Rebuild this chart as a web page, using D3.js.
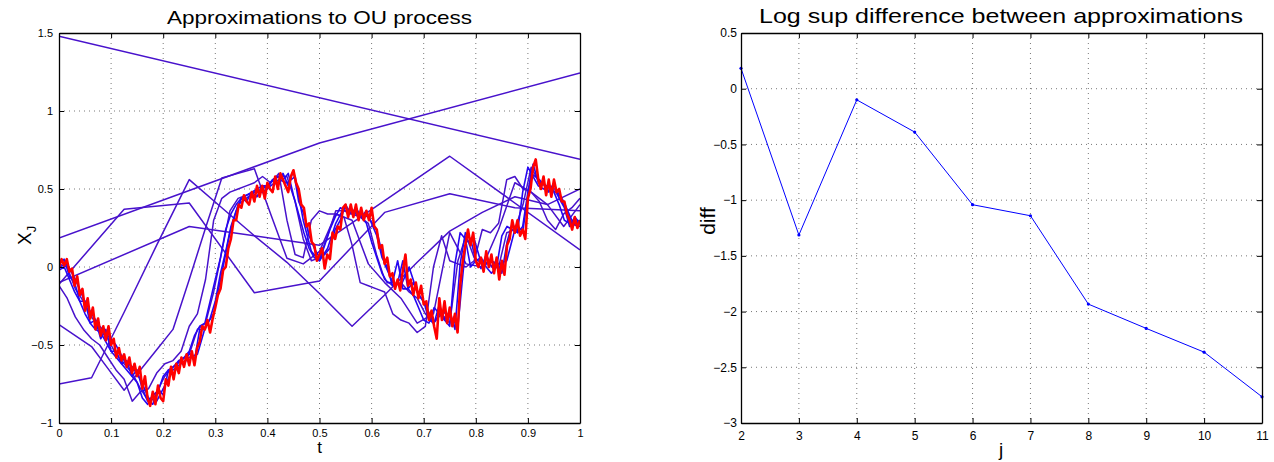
<!DOCTYPE html>
<html><head><meta charset="utf-8">
<script src="https://cdn.jsdelivr.net/npm/d3@7"></script>
<style>
body{margin:0;background:#fff}
svg{display:block}
text{font-family:"Liberation Sans",Arial,Helvetica,sans-serif;fill:#000}
</style>
</head><body>
<svg id="c" width="1274" height="462"></svg>
<script>
// ---------- Left chart data ----------
const leftTitle = "Approximations to OU process";
const leftXTicks = [0,0.1,0.2,0.3,0.4,0.5,0.6,0.7,0.8,0.9,1];
const leftXTickLabels = ["0","0.1","0.2","0.3","0.4","0.5","0.6","0.7","0.8","0.9","1"];
const leftYTicks = [-1,-0.5,0,0.5,1,1.5];
const leftYTickLabels = ["\u22121","\u22120.5","0","0.5","1","1.5"];

// approximation levels (values on an equally spaced time grid over [0,1])
const approxJ0 = [1.48,0.69];
const approxJ1 = [0.186,0.795,1.244];
const approxJ2 = [-0.10,0.26,0.14,0.71,0.11];
const approxJ3 = [-0.11,0.37,0.41,-0.165,-0.09,0.35,0.47,0.38,0.36];
const approxJ4 = [-0.75,-0.71,-0.29,0.14,0.56,0.38,0.20,0.03,-0.17,-0.38,-0.18,0.03,0.23,0.35,0.45,0.40,0.50];
const approxJ5 = [-0.37,-0.44,-0.51,-0.65,-0.79,-0.66,-0.53,-0.40,-0.08,0.25,0.57,0.60,0.63,0.34,0.056,0.02,
  0.10,0.34,0.30,0.02,-0.10,-0.20,-0.36,-0.30,0.22,0.02,0.00,0.24,0.54,0.48,0.40,0.26,0.40];
const approxJ6 = [-0.12,-0.20,-0.32,-0.40,-0.46,-0.50,-0.58,-0.66,-0.72,-0.86,-0.80,-0.78,-0.68,-0.62,-0.60,-0.54,
  -0.38,-0.30,-0.08,0.30,0.44,0.48,0.50,0.52,0.54,0.58,0.54,0.60,0.30,0.08,0.06,0.30,
  0.36,0.34,0.34,0.32,0.14,-0.10,-0.12,-0.14,-0.16,-0.30,-0.34,-0.36,-0.42,-0.38,0.00,0.20,
  0.04,0.02,0.00,0.04,0.24,0.22,0.28,0.56,0.58,0.50,0.48,0.42,0.30,0.24,0.34,0.38,0.44];
const approxJ7 = [0.02,0.00,-0.14,-0.22,-0.32,-0.40,-0.46,-0.56,-0.62,-0.68,-0.78,-0.86,-0.80,-0.70,-0.64,-0.60,
  -0.56,-0.40,-0.36,-0.16,0.10,0.36,0.44,0.46,0.48,0.50,0.54,0.58,0.58,0.42,0.18,0.04,
  0.06,0.20,0.36,0.36,0.34,0.32,0.28,0.08,-0.08,-0.12,-0.10,-0.16,-0.20,-0.30,-0.36,-0.30,
  -0.36,0.04,0.20,0.06,0.02,0.04,0.00,0.22,0.24,0.40,0.64,0.54,0.52,0.48,0.40,0.28,0.30];
const approxJ8 = [0.00,0.02,-0.08,-0.20,-0.30,-0.38,-0.44,-0.50,-0.60,-0.64,-0.72,-0.84,-0.86,-0.76,-0.66,-0.62,
  -0.58,-0.56,-0.38,-0.30,-0.04,0.22,0.40,0.44,0.48,0.48,0.52,0.56,0.54,0.58,0.30,0.10,
  0.04,0.12,0.28,0.38,0.36,0.34,0.32,0.24,0.02,-0.10,-0.12,0.00,-0.16,-0.24,-0.36,-0.28,
  -0.32,-0.38,0.16,0.18,0.00,0.04,0.02,0.04,0.24,0.24,0.60,0.56,0.50,0.50,0.42,0.30,0.28];
const approxJ9 = [-0.02,0.00,-0.08,-0.16,-0.22,-0.30,-0.36,-0.40,-0.42,-0.48,-0.54,-0.58,-0.62,-0.66,-0.70,-0.74,
  -0.84,-0.88,-0.82,-0.80,-0.70,-0.66,-0.64,-0.60,-0.58,-0.54,-0.44,-0.38,-0.36,-0.22,-0.08,0.06,
  0.24,0.34,0.40,0.44,0.46,0.48,0.50,0.52,0.52,0.56,0.58,0.56,0.60,0.46,0.34,0.22,
  0.12,0.06,0.04,0.14,0.24,0.32,0.38,0.36,0.36,0.34,0.32,0.28,0.16,0.06,-0.04,-0.10,
  -0.10,0.04,-0.14,-0.14,-0.18,-0.26,-0.34,-0.36,-0.26,-0.30,-0.34,-0.38,0.02,0.22,0.18,0.00,
  0.04,0.06,0.00,-0.04,0.00,0.20,0.26,0.24,0.22,0.48,0.64,0.58,0.52,0.50,0.52,0.48,
  0.40,0.30,0.28,0.27,0.26];
const approxJ10 = [0.02,0.05,-0.06,-0.10,-0.22,-0.22,-0.36,-0.34,-0.46,-0.40,-0.54,-0.54,-0.62,-0.60,-0.70,-0.66,
  -0.78,-0.86,-0.88,-0.78,-0.82,-0.66,-0.70,-0.60,-0.63,-0.55,-0.60,-0.40,-0.40,-0.33,-0.22,-0.04,
  0.10,0.26,0.36,0.44,0.42,0.48,0.45,0.52,0.50,0.56,0.52,0.60,0.52,0.62,0.42,0.34,
  0.20,0.12,0.06,0.08,0.12,0.24,0.30,0.40,0.34,0.38,0.32,0.36,0.28,0.20,0.06,0.00,
  -0.12,-0.10,0.04,-0.14,-0.10,-0.18,-0.22,-0.34,-0.36,-0.24,-0.34,-0.28,-0.40,0.02,0.22,0.18,
  0.04,-0.01,0.08,0.00,0.04,-0.04,0.16,0.28,0.22,0.26,0.48,0.66,0.54,0.54,0.48,0.54,
  0.44,0.38,0.26,0.32,0.28];
// finest level (red)
const approxFine = [0.00,0.05,0.01,0.05,-0.03,-0.01,-0.12,-0.06,-0.18,-0.14,-0.28,-0.20,-0.33,-0.26,-0.40,-0.33,
  -0.44,-0.38,-0.47,-0.38,-0.50,-0.46,-0.58,-0.52,-0.60,-0.56,-0.64,-0.58,-0.68,-0.62,-0.70,-0.64,
  -0.78,-0.70,-0.84,-0.89,-0.80,-0.88,-0.76,-0.84,-0.86,-0.72,-0.76,-0.64,-0.72,-0.62,-0.68,-0.58,
  -0.64,-0.56,-0.63,-0.54,-0.63,-0.52,-0.48,-0.38,-0.40,-0.34,-0.42,-0.33,-0.26,-0.18,-0.14,-0.02,
  0.00,0.12,0.18,0.30,0.30,0.40,0.38,0.46,0.42,0.40,0.48,0.42,0.52,0.45,0.52,0.44,
  0.54,0.50,0.48,0.58,0.50,0.60,0.56,0.52,0.48,0.58,0.62,0.54,0.50,0.40,0.38,0.26,
  0.28,0.16,0.14,0.04,0.08,0.12,-0.01,0.08,0.05,0.22,0.18,0.26,0.24,0.38,0.40,0.32,
  0.40,0.32,0.40,0.30,0.38,0.30,0.36,0.30,0.38,0.26,0.24,0.12,0.14,0.02,0.06,-0.06,
  -0.04,-0.14,-0.08,-0.15,-0.02,0.08,-0.12,-0.08,-0.18,-0.10,-0.20,-0.12,-0.24,-0.22,-0.34,-0.28,
  -0.38,-0.46,-0.20,-0.34,-0.22,-0.36,-0.26,-0.38,-0.30,-0.42,-0.12,0.04,0.14,0.24,0.14,0.22,
  0.04,0.00,0.06,-0.03,0.10,0.00,0.08,-0.04,0.06,-0.08,0.04,-0.05,0.14,0.18,0.30,0.22,
  0.30,0.20,0.24,0.18,0.44,0.50,0.64,0.69,0.56,0.50,0.58,0.46,0.56,0.45,0.56,0.48,
  0.50,0.42,0.42,0.34,0.30,0.24,0.32,0.25,0.30];

const coarseLevels = [approxJ0,approxJ1,approxJ2,approxJ3,approxJ4,approxJ5,approxJ6,approxJ7];
const fineLevels = [approxJ8,approxJ9,approxJ10];

// ---------- Right chart data ----------
const rightTitle = "Log sup difference between approximations";
const levelsJ = [2,3,4,5,6,7,8,9,10,11];
const logSupDiff = [0.183,-1.313,-0.10,-0.389,-1.041,-1.14,-1.933,-2.151,-2.364,-2.765];
const rightXTicks = [2,3,4,5,6,7,8,9,10,11];
const rightYTicks = [-3,-2.5,-2,-1.5,-1,-0.5,0,0.5];
const rightYTickLabels = ["\u22123","\u22122.5","\u22122","\u22121.5","\u22121","\u22120.5","0","0.5"];

// ---------- Drawing ----------
const svg = d3.select("#c");
svg.append("rect").attr("width",1274).attr("height",462).attr("fill","#fff");

function drawGrid(g, x, y, xt, yt) {
  const [x0,x1] = x.range(), [y0,y1] = y.range();
  const grid = g.append("g").attr("stroke","#555").attr("stroke-width",0.8).attr("stroke-dasharray","1,4");
  xt.forEach(v => { const px = x(v); if (Math.abs(px-x0)>1 && Math.abs(px-x1)>1)
    grid.append("line").attr("x1",px).attr("x2",px).attr("y1",y1).attr("y2",y0); });
  yt.forEach(v => { const py = y(v); if (Math.abs(py-y0)>1 && Math.abs(py-y1)>1)
    grid.append("line").attr("x1",x0).attr("x2",x1).attr("y1",py).attr("y2",py); });
}

function drawAxes(g, x, y, xt, xl, yt, yl, fs, padX, padY) {
  const [x0,x1] = x.range(), [y0,y1] = y.range();
  const ax = (gen, tx, ty, labels) => {
    const a = g.append("g").attr("transform",`translate(${tx},${ty})`).call(gen);
    a.select(".domain").attr("stroke","#000").attr("stroke-width",1.3);
    a.selectAll(".tick line").attr("stroke","#000").attr("stroke-width",1);
    a.selectAll("text").attr("font-size",fs).attr("font-family","Liberation Sans, Arial, sans-serif").attr("fill","#000");
    if (!labels) a.selectAll("text").remove();
    return a;
  };
  ax(d3.axisBottom(x).tickValues(xt).tickFormat((d,i)=>xl[i]).tickSizeInner(-5).tickSizeOuter(0).tickPadding(padX), 0, y0, true);
  ax(d3.axisTop(x).tickValues(xt).tickSizeInner(-5).tickSizeOuter(0), 0, y1, false);
  ax(d3.axisLeft(y).tickValues(yt).tickFormat((d,i)=>yl[i]).tickSizeInner(-5).tickSizeOuter(0).tickPadding(padY), x0, 0, true);
  ax(d3.axisRight(y).tickValues(yt).tickSizeInner(-5).tickSizeOuter(0), x1, 0, false);
}

// Left chart
const xL = d3.scaleLinear().domain([0,1]).range([59,580]);
const yL = d3.scaleLinear().domain([-1,1.5]).range([423,33]);
const gL = svg.append("g");
drawGrid(gL, xL, yL, leftXTicks, leftYTicks);

const lineL = d3.line().x(d=>xL(d[0])).y(d=>yL(d[1]));
const toPts = arr => arr.map((v,i)=>[i/(arr.length-1), v]);
svg.append("clipPath").attr("id","clipL").append("rect")
  .attr("x",59).attr("y",33).attr("width",521).attr("height",390);
const plotL = gL.append("g").attr("clip-path","url(#clipL)");
coarseLevels.forEach(arr => plotL.append("path").attr("d",lineL(toPts(arr)))
  .attr("fill","none").attr("stroke","#4812cc").attr("stroke-width",1.5).attr("stroke-linejoin","round"));
fineLevels.forEach(arr => plotL.append("path").attr("d",lineL(toPts(arr)))
  .attr("fill","none").attr("stroke","#2606f2").attr("stroke-width",1.6).attr("stroke-linejoin","round"));
plotL.append("path").attr("d",lineL(toPts(approxFine)))
  .attr("fill","none").attr("stroke","#ff0000").attr("stroke-width",2.6).attr("stroke-linejoin","round");
drawAxes(gL, xL, yL, leftXTicks, leftXTickLabels, leftYTicks, leftYTickLabels, 11, 6, 6);

gL.append("text").attr("x",319.5).attr("y",23.5).attr("text-anchor","middle")
  .attr("font-size",18.5).attr("textLength",305).attr("lengthAdjust","spacingAndGlyphs").text(leftTitle);
gL.append("text").attr("x",319.5).attr("y",452.5).attr("text-anchor","middle").attr("font-size",17).text("t");
const yl = gL.append("text").attr("transform","translate(31,245) rotate(-90)").attr("font-size",19);
yl.append("tspan").text("X");
yl.append("tspan").attr("font-size",13).attr("dy",5).text("J");

// Right chart
const xR = d3.scaleLinear().domain([2,11]).range([741,1262]);
const yR = d3.scaleLinear().domain([-3,0.5]).range([423,33]);
const gR = svg.append("g");
drawGrid(gR, xR, yR, rightXTicks, rightYTicks);
const pts = levelsJ.map((j,i)=>[j, logSupDiff[i]]);
gR.append("path").attr("d", d3.line().x(d=>xR(d[0])).y(d=>yR(d[1]))(pts))
  .attr("fill","none").attr("stroke","#0000ff").attr("stroke-width",1);
gR.selectAll("circle.m").data(pts).enter().append("circle")
  .attr("cx",d=>xR(d[0])).attr("cy",d=>yR(d[1])).attr("r",1.6).attr("fill","#0000ff");
drawAxes(gR, xR, yR, rightXTicks, rightXTicks.map(String), rightYTicks, rightYTickLabels, 12, 8, 4);

gR.append("text").attr("x",1001).attr("y",23).attr("text-anchor","middle")
  .attr("font-size",21).attr("textLength",484).attr("lengthAdjust","spacingAndGlyphs").text(rightTitle);
gR.append("text").attr("x",1001).attr("y",456).attr("text-anchor","middle").attr("font-size",19).text("j");
gR.append("text").attr("transform","translate(715,221) rotate(-90)").attr("text-anchor","middle")
  .attr("font-size",21).text("diff");
</script>
</body></html>
